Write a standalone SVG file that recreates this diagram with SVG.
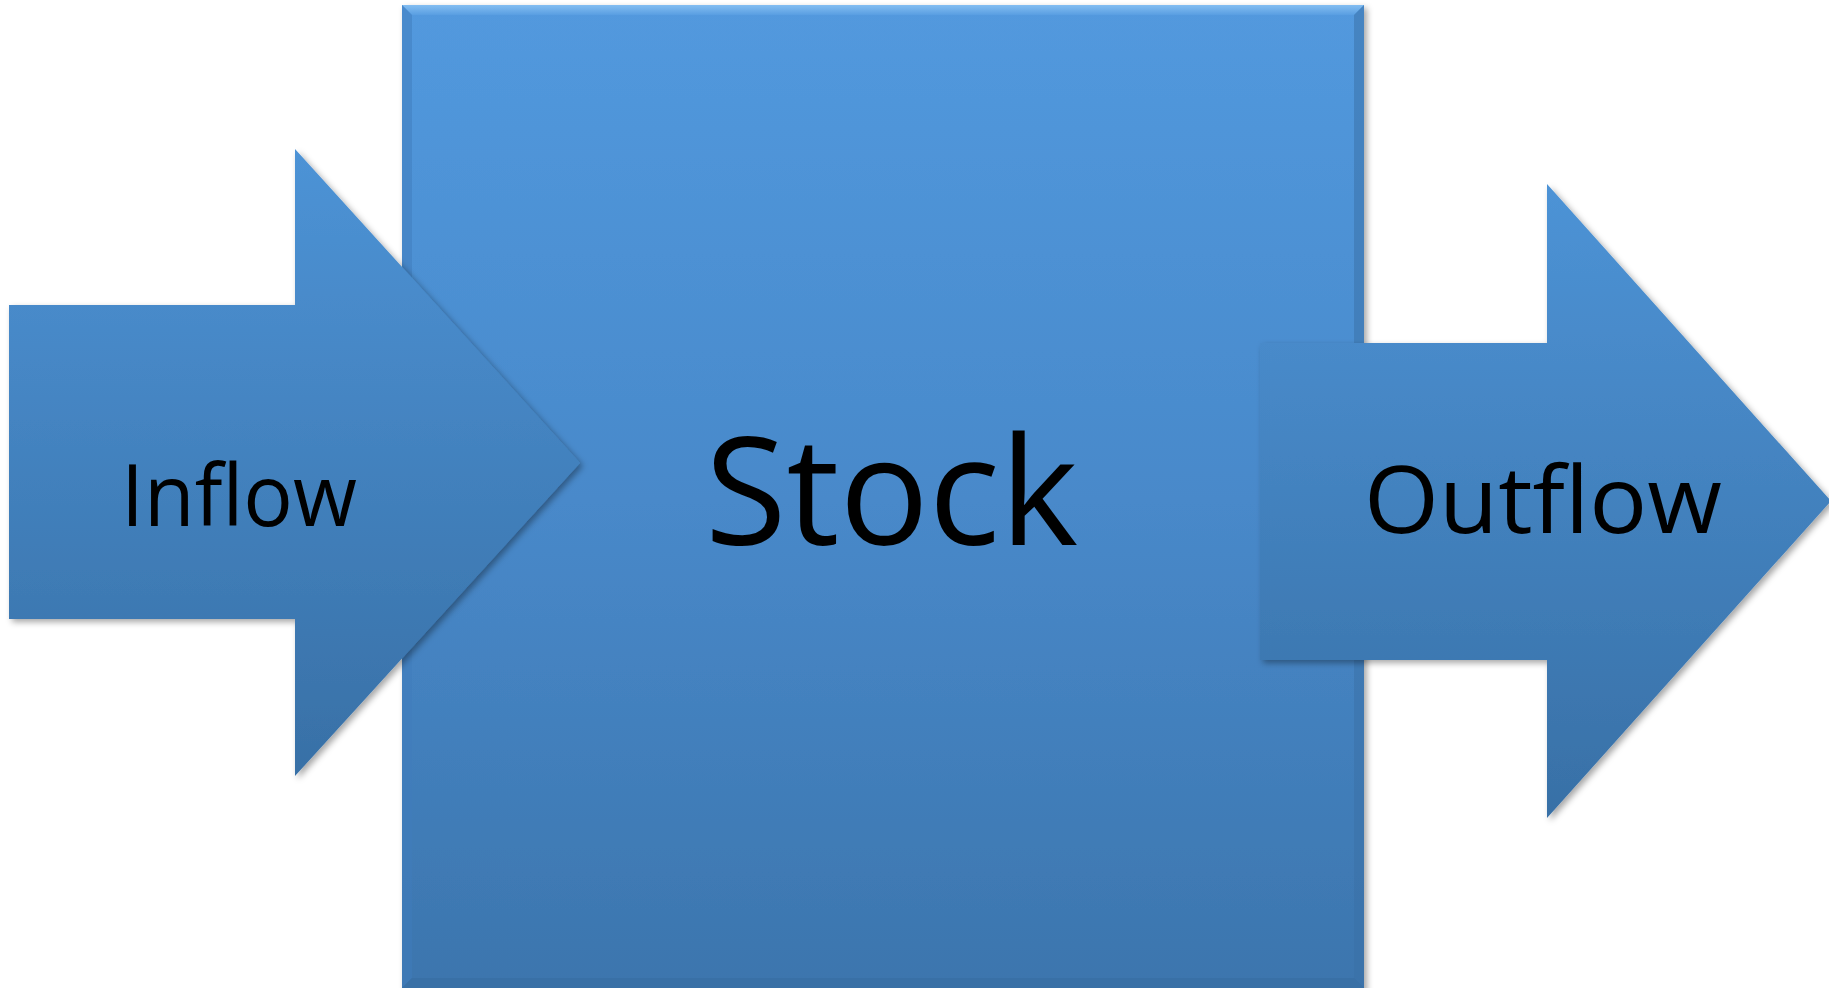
<svg xmlns="http://www.w3.org/2000/svg" width="1829" height="988" viewBox="0 0 1829 988">
<defs>
<linearGradient id="gStock" x1="0" y1="0" x2="0" y2="1">
<stop offset="0" stop-color="#5299de"/>
<stop offset="0.5" stop-color="#4889ca"/>
<stop offset="1" stop-color="#3c75ad"/>
</linearGradient>
<linearGradient id="gArrow" x1="0" y1="0" x2="0" y2="1">
<stop offset="0" stop-color="#4d93d6"/>
<stop offset="1" stop-color="#3870a6"/>
</linearGradient>
<linearGradient id="gTop" x1="0" y1="0" x2="0" y2="1">
<stop offset="0" stop-color="#8cc4f5"/>
<stop offset="1" stop-color="#5a9fe2"/>
</linearGradient>
<filter id="shadow" x="-5%" y="-5%" width="115%" height="115%">
<feDropShadow dx="3" dy="3" stdDeviation="3" flood-color="#000" flood-opacity="0.35"/>
</filter>
</defs>
<style>
.lbl { font-family: "Open Sans", "Liberation Sans", Arial, sans-serif; fill: #000; }
.arrow { fill: url(#gArrow); filter: url(#shadow); }
</style>
<rect width="1829" height="988" fill="#ffffff"/>
<g id="stock">
<rect x="402" y="5" width="962" height="990" fill="url(#gStock)" filter="url(#shadow)"/>
<polygon points="402,5 1364,5 1354,15 412,15" fill="url(#gTop)" opacity="0.85"/>
<polygon points="402,5 412,15 412,978 402,988" fill="#3f7cbb" opacity="0.5"/>
<polygon points="1364,5 1364,988 1354,978 1354,15" fill="#3a70a6" opacity="0.5"/>
<polygon points="402,988 1364,988 1354,978 412,978" fill="#376ca0" opacity="0.6"/>
<text class="lbl" x="705" y="545" font-size="150" textLength="373" lengthAdjust="spacingAndGlyphs">Stock</text>
</g>
<g id="inflow">
<polygon class="arrow" points="9,305 295,305 295,149 580,463 295,776 295,619 9,619"/>
<text class="lbl" x="121" y="526" font-size="86" textLength="236" lengthAdjust="spacingAndGlyphs">Inflow</text>
</g>
<g id="outflow">
<polygon class="arrow" points="1260,343 1547,343 1547,184 1831,501 1547,818 1547,660 1260,660"/>
<text class="lbl" x="1364" y="533" font-size="94" textLength="358" lengthAdjust="spacingAndGlyphs">Outflow</text>
</g>
<g id="connectors"/>
</svg>
